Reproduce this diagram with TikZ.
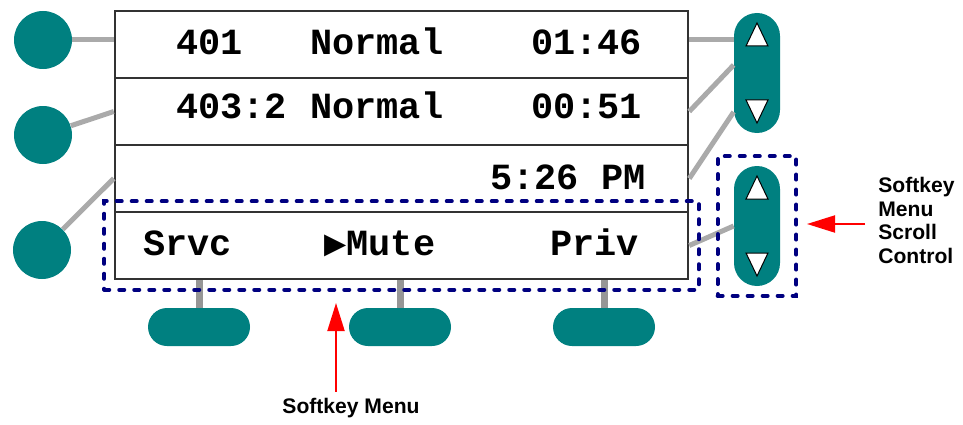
\documentclass[tikz,border=0pt]{standalone}
\usepackage{fontspec}
\setmainfont{Liberation Sans}
\newfontfamily\lcdfont{Liberation Mono}
\newfontfamily\symfont{DejaVu Sans Mono}
\usetikzlibrary{arrows.meta, fit}

\definecolor{keyteal}{RGB}{0,128,128}
\definecolor{linkgray}{RGB}{170,170,170}
\definecolor{stemgray}{RGB}{150,150,150}
\definecolor{framegray}{RGB}{50,50,50}
\definecolor{menunavy}{RGB}{0,0,128}

\tikzset{
  lcdrow/.style={draw=framegray, line width=0.05cm, minimum width=11.46cm, minimum height=1.34cm, inner sep=0},
  lcdtext/.style={anchor=base west, inner sep=0, font=\lcdfont\bfseries\fontsize{21}{21}\selectfont},
  linekey/.style={circle, fill=keyteal, minimum size=1.16cm, inner sep=0},
  scrollkey/.style={fill=keyteal, rounded corners=0.46cm, minimum width=0.92cm, minimum height=2.4cm, inner sep=0},
  softkey/.style={fill=keyteal, rounded corners=0.38cm, minimum width=2.04cm, minimum height=0.76cm, inner sep=0},
  link/.style={draw=linkgray, line width=0.1cm},
  stem/.style={draw=stemgray, line width=0.14cm},
  menuframe/.style={draw=menunavy, line width=0.08cm, dash pattern=on 0.1cm off 0.2cm, line cap=round},
  callout/.style={draw=red, line width=0.04cm, -{Triangle[length=0.56cm, width=0.34cm]}},
  tri/.style={fill=white, draw=black, line width=0.02cm},
  note/.style={font=\bfseries\fontsize{12}{13.6}\selectfont, align=left}
}

\begin{document}
\begin{tikzpicture}
    \useasboundingbox (0,0) rectangle (19.26,8.48);

    % display rows
    \node[lcdrow] (row1) at (8.03,7.59) {};
    \node[lcdrow] (row2) at (8.03,6.25) {};
    \node[lcdrow] (row3) at (8.03,4.91) {};
    \node[lcdrow] (row4) at (8.03,3.57) {};

    \node[lcdtext] (t1a) at (3.52,7.38) {401};
    \node[lcdtext] (t1b) at (6.20,7.38) {Normal};
    \node[lcdtext] (t1c) at (10.62,7.38) {01:46};
    \node[lcdtext] (t2a) at (3.52,6.10) {403:2};
    \node[lcdtext] (t2b) at (6.20,6.10) {Normal};
    \node[lcdtext] (t2c) at (10.62,6.10) {00:51};
    \node[lcdtext] (t3a) at (9.80,4.70) {5:26 PM};
    \node[lcdtext] (t4a) at (2.86,3.38) {Srvc};
    \node[lcdtext] (t4b) at (6.48,3.38) {{\symfont ▶}Mute};
    \node[lcdtext] (t4c) at (11.00,3.38) {Priv};

    % keys
    \node[linekey] (k1) at (0.86,7.68) {};
    \node[linekey] (k2) at (0.86,5.78) {};
    \node[linekey] (k3) at (0.84,3.48) {};

    \node[scrollkey] (s1) at (15.14,7.02) {};
    \node[scrollkey] (s2) at (15.14,3.96) {};
    \foreach \k in {s1,s2} {
        \draw[tri] ([yshift=1cm]\k.center) -- ++(0.22,-0.46) -- ++(-0.44,0) -- cycle;
        \draw[tri] ([yshift=-1cm]\k.center) -- ++(0.22,0.46) -- ++(-0.44,0) -- cycle;
    }

    \node[softkey] (b1) at (3.98,1.94) {};
    \node[softkey] (b2) at (8.00,1.94) {};
    \node[softkey] (b3) at (12.08,1.94) {};

    % links
    \draw[link] (k1) -- (k1 -| row1.west);
    \draw[link] (k2) -- (row2.west);
    \draw[link] (k3) -- (row3.west);
    \draw[link] (k1 -| row1.east) -- (k1 -| s1.west);
    \draw[link] (row2.east) -- ([yshift=0.16cm]s1.west);
    \draw[link] (row3.east) -- ([yshift=-0.78cm]s1.west);
    \draw[link] (row4.east) -- (s2.west);
    \foreach \b in {b1,b2,b3}
        \draw[stem] (\b) -- (\b |- row4.south);

    % softkey menu frames
    \node[menuframe, fit=(row4), inner sep=0.19cm] (menubox) {};
    \node[menuframe, fit=(s2), inner xsep=0.32cm, inner ysep=0.19cm] (scrollbox) {};

    \node[note] (lbl1) at (7.02,0.32) {Softkey Menu};
    \coordinate (tip1) at (6.72,2.42);
    \draw[callout] (lbl1.north -| tip1) -- (tip1);

    \node[note, anchor=west, inner xsep=0.26cm] (lbl2) at (17.30,4.07) {Softkey\\Menu\\Scroll\\Control};
    \coordinate (tip2) at (16.14,4.00);
    \draw[callout] (tip2 -| lbl2.west) -- (tip2);
\end{tikzpicture}
\end{document}
